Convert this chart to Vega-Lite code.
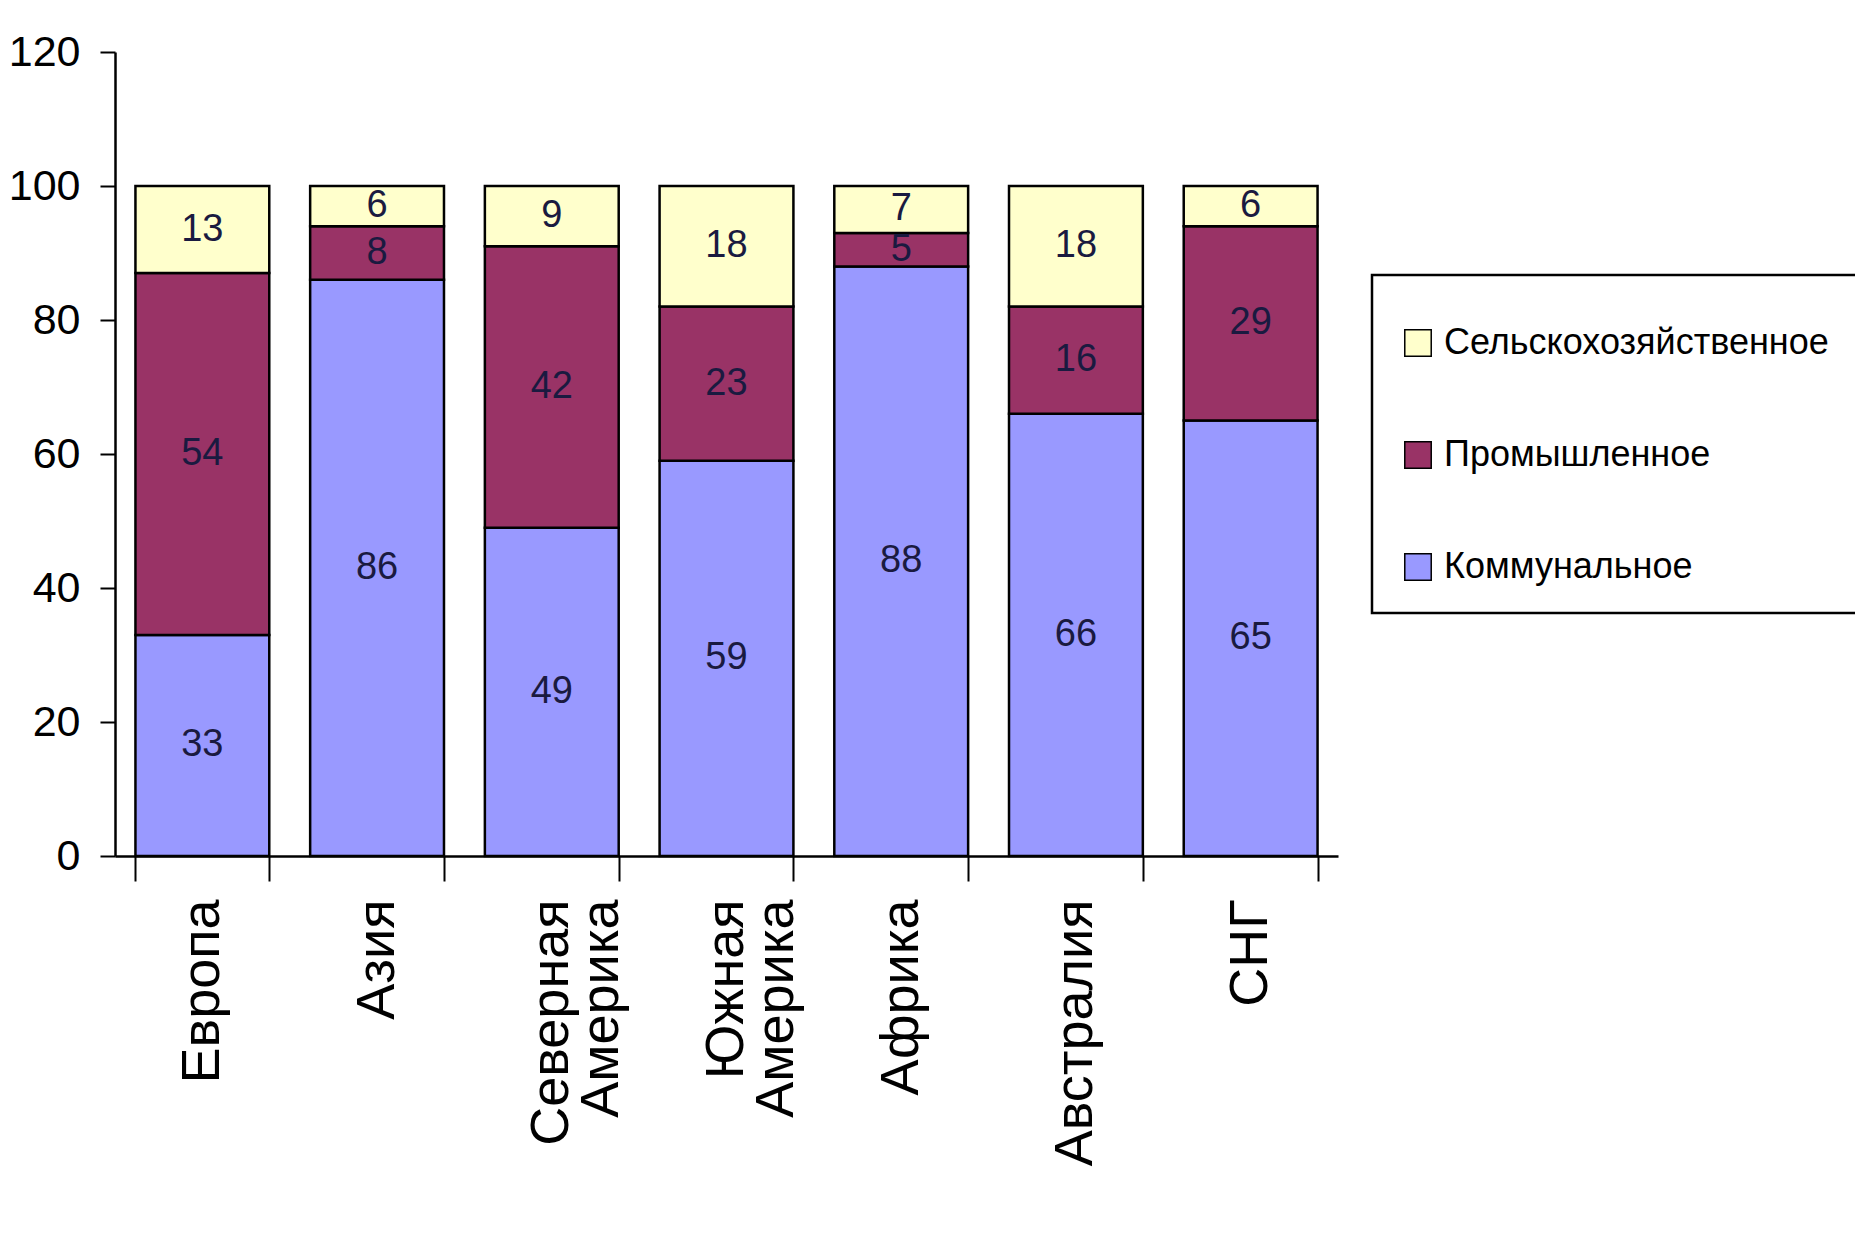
{
  "$schema": "https://vega.github.io/schema/vega-lite/v6.json",
  "width": 1223,
  "height": 804,
  "autosize": {"type": "none"},
  "padding": {"left": 115, "top": 52, "right": 517, "bottom": 399},
  "background": "white",
  "config": {"view": {"stroke": null}},
  "data": {
    "values": [
      {"region": "Европа", "type": "Коммунальное", "value": 33},
      {"region": "Европа", "type": "Промышленное", "value": 54},
      {"region": "Европа", "type": "Сельскохозяйственное", "value": 13},
      {"region": "Азия", "type": "Коммунальное", "value": 86},
      {"region": "Азия", "type": "Промышленное", "value": 8},
      {"region": "Азия", "type": "Сельскохозяйственное", "value": 6},
      {"region": "Северная Америка", "type": "Коммунальное", "value": 49},
      {"region": "Северная Америка", "type": "Промышленное", "value": 42},
      {"region": "Северная Америка", "type": "Сельскохозяйственное", "value": 9},
      {"region": "Южная Америка", "type": "Коммунальное", "value": 59},
      {"region": "Южная Америка", "type": "Промышленное", "value": 23},
      {"region": "Южная Америка", "type": "Сельскохозяйственное", "value": 18},
      {"region": "Африка", "type": "Коммунальное", "value": 88},
      {"region": "Африка", "type": "Промышленное", "value": 5},
      {"region": "Африка", "type": "Сельскохозяйственное", "value": 7},
      {"region": "Австралия", "type": "Коммунальное", "value": 66},
      {"region": "Австралия", "type": "Промышленное", "value": 16},
      {"region": "Австралия", "type": "Сельскохозяйственное", "value": 18},
      {"region": "СНГ", "type": "Коммунальное", "value": 65},
      {"region": "СНГ", "type": "Промышленное", "value": 29},
      {"region": "СНГ", "type": "Сельскохозяйственное", "value": 6}
    ]
  },
  "layer": [
    {
      "mark": {"type": "bar", "stroke": "black", "strokeWidth": 2.5},
      "encoding": {
        "x": {
          "field": "region", "type": "nominal", "sort": null,
          "scale": {"paddingInner": 0.234, "paddingOuter": 0.117},
          "axis": {
            "title": null, "labelAngle": 270, "labelAlign": "right", "labelBaseline": "middle",
            "labelFont": "Liberation Sans", "labelFontSize": 54, "labelColor": "black",
            "labelPadding": 18, "labelLimit": 600, "labelLineHeight": 50,
            "labelExpr": "split(datum.label, ' ')",
            "tickSize": 25, "tickWidth": 2, "tickColor": "black", "tickBand": "extent",
            "domainColor": "black", "domainWidth": 2.5
          }
        },
        "y": {
          "field": "value", "type": "quantitative",
          "scale": {"domain": [0, 120]},
          "axis": {
            "title": null, "values": [0, 20, 40, 60, 80, 100, 120], "grid": false,
            "labelFont": "Liberation Sans", "labelFontSize": 43, "labelColor": "black",
            "labelPadding": 20, "tickSize": 15, "tickWidth": 2, "tickColor": "black",
            "domainColor": "black", "domainWidth": 2.5
          }
        },
        "color": {
          "field": "type", "type": "nominal",
          "scale": {
            "domain": ["Сельскохозяйственное", "Промышленное", "Коммунальное"],
            "range": ["#FFFFCC", "#993366", "#9999FF"]
          },
          "legend": {
            "orient": "none", "legendX": 1257, "legendY": 223,
            "title": " ", "titleFontSize": 14, "titlePadding": 8,
            "padding": 28, "rowPadding": 76,
            "strokeColor": "black", "fillColor": "white",
            "symbolType": "square", "symbolSize": 700, "symbolStrokeColor": "black", "symbolStrokeWidth": 1.5,
            "labelFont": "Liberation Sans", "labelFontSize": 36, "labelColor": "black",
            "labelOffset": 8, "labelLimit": 800,
            "encode": {"legend": {"update": {"strokeWidth": {"value": 2.5}}}}
          }
        },
        "order": {"field": "type", "sort": "ascending"}
      }
    },
    {
      "transform": [
        {"stack": "value", "groupby": ["region"], "sort": [{"field": "type", "order": "ascending"}], "as": ["v0", "v1"]},
        {"calculate": "(datum.v0 + datum.v1) / 2", "as": "mid"}
      ],
      "mark": {"type": "text", "font": "Liberation Sans", "fontSize": 38, "color": "#1a1a40", "baseline": "middle", "align": "center"},
      "encoding": {
        "x": {"field": "region", "type": "nominal", "sort": null},
        "y": {"field": "mid", "type": "quantitative"},
        "text": {"field": "value", "type": "quantitative"}
      }
    }
  ]
}
